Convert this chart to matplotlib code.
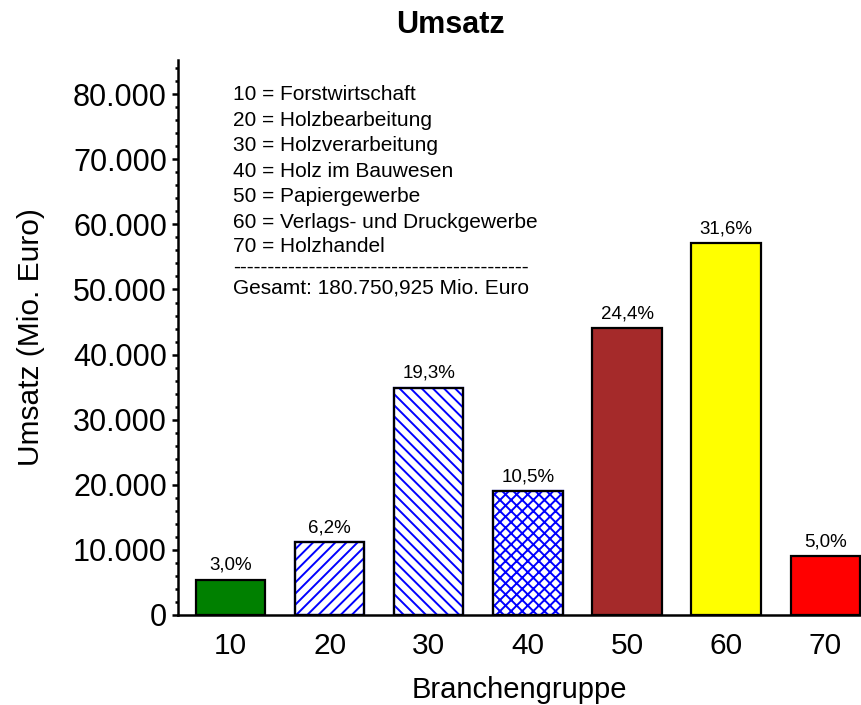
import matplotlib
matplotlib.use("Agg")
import matplotlib.pyplot as plt
from matplotlib.ticker import FuncFormatter, MultipleLocator

plt.rcParams['font.family'] = ['Liberation Sans', 'DejaVu Sans']
plt.rcParams['hatch.linewidth'] = 1.4

categories = ["10", "20", "30", "40", "50", "60", "70"]
values = [5420, 11210, 34890, 18980, 44100, 57120, 9040]
pct_labels = ["3,0%", "6,2%", "19,3%", "10,5%", "24,4%", "31,6%", "5,0%"]
legend_lines = [
    "10 = Forstwirtschaft",
    "20 = Holzbearbeitung",
    "30 = Holzverarbeitung",
    "40 = Holz im Bauwesen",
    "50 = Papiergewerbe",
    "60 = Verlags- und Druckgewerbe",
    "70 = Holzhandel",
]
total_text = "Gesamt: 180.750,925 Mio. Euro"

facecolors = ["#008000", "white", "white", "white", "#a52a2a", "#ffff00", "#ff0000"]
hatches = [None, "///", "\\\\\\", "xxx", None, None, None]

W, H = 861, 705
fig = plt.figure(figsize=(W / 100, H / 100), dpi=100)
ax = fig.add_axes([178 / W, 1 - 615 / H, (W - 178) / W, (615 - 60) / H])

x = list(range(len(categories)))
for i in x:
    b = ax.bar(i, values[i], width=0.7, color=facecolors[i], edgecolor="black",
               linewidth=1.6, hatch=hatches[i], zorder=2)
    if hatches[i]:
        b[0].set_edgecolor("#0000ff")
        b[0].set_hatch(hatches[i])
        ax.bar(i, values[i], width=0.7, fill=False, edgecolor="black",
               linewidth=1.6, zorder=3)
    ax.text(i, values[i] + 900, pct_labels[i], ha="center", va="bottom", fontsize=13.5)

ax.set_xlim(-0.53, 6.36)
ax.set_ylim(0, 85250)
ax.set_xticks(x)
ax.set_xticklabels(categories)
ax.yaxis.set_major_locator(MultipleLocator(10000))
ax.yaxis.set_minor_locator(MultipleLocator(2000))
ax.yaxis.set_major_formatter(FuncFormatter(lambda v, p: f"{int(v):,}".replace(",", ".")))

for s in ["top", "right"]:
    ax.spines[s].set_visible(False)
ax.spines["left"].set_linewidth(1.8)
ax.spines["bottom"].set_linewidth(1.8)

ax.tick_params(axis="y", which="major", direction="out", length=4, width=1.8, labelsize=22, pad=4)
ax.tick_params(axis="y", which="minor", direction="out", length=2, width=1.8)
ax.tick_params(axis="x", which="both", length=0, labelsize=21.5, pad=12)

ax.set_xlabel("Branchengruppe", fontsize=21, labelpad=12)
ax.set_ylabel("Umsatz (Mio. Euro)", fontsize=21.5, labelpad=20)
fig.text(450 / W, 1 - 25 / H, "Umsatz", ha="center", va="center", fontsize=22, fontweight="bold")

# annotation block (pixel positions converted to figure fraction)
x0 = 233 / W
for k, line in enumerate(legend_lines[:-1]):
    fig.text(x0, 1 - (100 + 25.6 * k) / H, line, ha="left", va="baseline", fontsize=15)
block = "\n".join([legend_lines[-1], "-" * 43, total_text])
fig.text(x0, 1 - 293 / H, block, ha="left", va="baseline",
         fontsize=15, linespacing=1.11)

fig.savefig("out.png", dpi=100)
